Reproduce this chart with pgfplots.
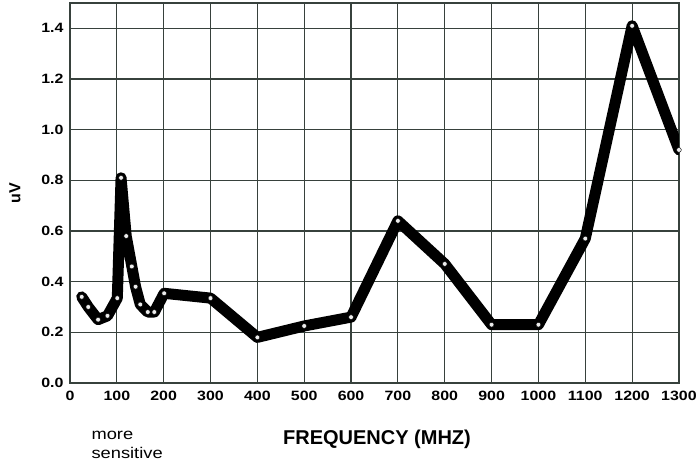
\documentclass[border=0pt]{standalone}
\usepackage{pgfplots}
\pgfplotsset{compat=1.18}
\usepackage{fontspec}
\setmainfont{Liberation Sans}
\newfontfamily\wide{Liberation Sans}[FakeStretch=1.18]

\definecolor{gridc}{RGB}{55,65,60}

\pgfplotstableread{
f v
25 0.34
39 0.30
60 0.25
80 0.265
101 0.335
109 0.81
120 0.58
132 0.46
140 0.38
150 0.31
166 0.28
180 0.28
201 0.354
300 0.335
400 0.18
500 0.225
600 0.26
700 0.64
800 0.47
900 0.23
1000 0.23
1100 0.57
1200 1.41
1300 0.92
}\datatable

\begin{document}
\begin{tikzpicture}
\begin{axis}[
    scale only axis,
    width=609pt, height=380pt,
    xmin=0, xmax=1300, ymin=0, ymax=1.5,
    xtick={0,100,...,1300},
    ytick={0,0.2,...,1.4},
    yticklabel style={/pgf/number format/fixed,/pgf/number format/fixed zerofill,/pgf/number format/precision=1},
    /pgf/number format/assume math mode=true,
    /pgf/number format/1000 sep={},
    ticklabel style={font=\wide\bfseries\fontsize{13.5}{13.5}\selectfont},
    xticklabel style={yshift=-5pt},
    yticklabel style={xshift=-3pt},
    major tick length=0pt,
    grid=major,
    grid style={gridc, line width=1.2pt},
    axis line style={gridc, line width=1.6pt},
    ylabel={\bfseries\fontsize{16}{16}\selectfont uV},
    ylabel style={yshift=14pt},
]
\addplot[black, line width=11pt, line join=round, line cap=round] table[x=f, y=v] {\datatable};
\addplot[only marks, mark=*, mark size=2.4pt, draw=none, fill=white!85!gray] table[x=f, y=v] {\datatable};
\end{axis}
\node[anchor=base west, align=left, font=\wide\fontsize{15.5}{19}\selectfont] at (18pt,-76pt) {more\\sensitive};
\node[font=\bfseries\fontsize{20}{20}\selectfont] at (307pt,-56pt) {FREQUENCY (MHZ)};
\path (-70pt,-79pt) rectangle ++(700pt,462pt);
\end{tikzpicture}
\end{document}
